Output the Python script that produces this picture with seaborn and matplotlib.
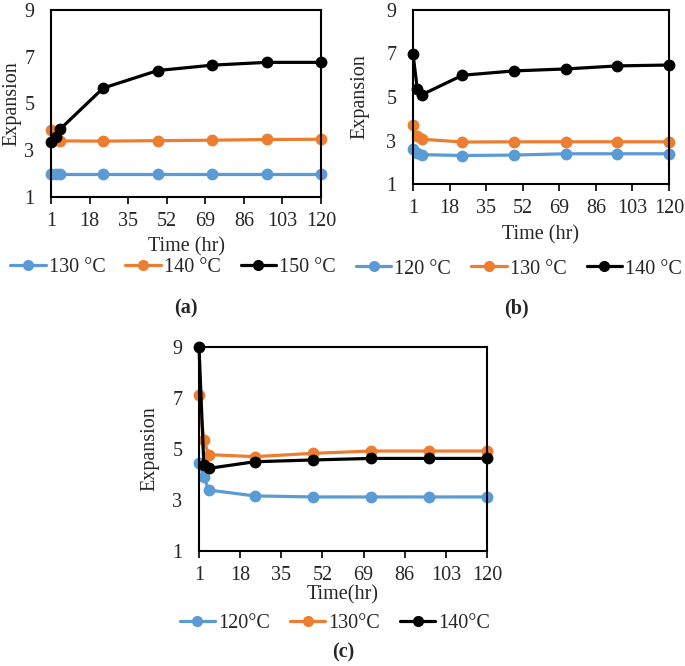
import matplotlib
matplotlib.use("Agg")
import matplotlib.pyplot as plt
import seaborn as sns
import pandas as pd
from matplotlib.lines import Line2D

# ---------------- data ----------------
time_hr = [1, 3, 5, 24, 48, 72, 96, 120]

a_labels = ["130 °C", "140 °C", "150 °C"]
a_130 = [2.00, 2.00, 2.00, 2.00, 2.00, 2.00, 2.00, 2.00]
a_140 = [3.85, 3.43, 3.40, 3.39, 3.41, 3.43, 3.46, 3.47]
a_150 = [3.36, 3.57, 3.90, 5.66, 6.41, 6.64, 6.76, 6.76]

b_labels = ["120 °C", "130 °C", "140 °C"]
b_120 = [2.62, 2.42, 2.35, 2.31, 2.33, 2.39, 2.39, 2.39]
b_130 = [3.72, 3.22, 3.06, 2.93, 2.94, 2.94, 2.94, 2.94]
b_140 = [6.98, 5.36, 5.10, 6.00, 6.20, 6.29, 6.43, 6.47]

c_labels = ["120°C", "130°C", "140°C"]
c_120 = [4.46, 3.90, 3.39, 3.16, 3.12, 3.12, 3.12, 3.12]
c_130 = [7.10, 5.35, 4.78, 4.70, 4.83, 4.92, 4.92, 4.92]
c_140 = [9.00, 4.37, 4.24, 4.50, 4.57, 4.63, 4.63, 4.63]

x_ticks = [1, 18, 35, 52, 69, 86, 103, 120]
y_ticks = [1, 3, 5, 7, 9]

colors = ["#5B9BD5", "#ED7D31", "#000000"]

# ---------------- style ----------------
sns.set_theme(style="white")
plt.rcParams["font.family"] = ["Liberation Serif", "DejaVu Serif"]

W, H = 685, 666
FS = 14.5
fig = plt.figure(figsize=(W / 100, H / 100), dpi=100)


def px_axes(left, top, right, bottom):
    ax = fig.add_axes([left / W, 1 - bottom / H, (right - left) / W, (bottom - top) / H])
    return ax, left, right


def panel(axinfo, series, labels, ylabel_x, xlabel, xlabel_xy, legend_xy, letter, letter_xy):
    ax, left, right = axinfo
    rows = []
    for lab, vals in zip(labels, series):
        for t, v in zip(time_hr, vals):
            rows.append({"Time": t, "Expansion": v, "Series": lab})
    df = pd.DataFrame(rows)
    sns.lineplot(data=df, x="Time", y="Expansion", hue="Series", hue_order=labels,
                 palette=dict(zip(labels, colors)), marker="o", markersize=8.5,
                 markeredgewidth=0, linewidth=2.3, legend=False, ax=ax, clip_on=False)
    ax.set_xlim(1, 120)
    ax.set_ylim(1, 9)
    ax.set_xticks(x_ticks)
    ax.set_yticks(y_ticks)
    ax.tick_params(axis="x", direction="out", length=5, width=1.2, color="black",
                   labelsize=FS, pad=6, bottom=True)
    ax.tick_params(axis="y", length=0, labelsize=FS, pad=12)
    for s in ax.spines.values():
        s.set_color("black")
        s.set_linewidth(1.5)
    ax.set_xlabel("")
    ax.set_ylabel("Expansion", fontsize=FS, va="center")
    ax.yaxis.set_label_coords((ylabel_x - left) / (right - left), 0.5)
    fig.text(xlabel_xy[0] / W, 1 - xlabel_xy[1] / H, xlabel, ha="center", va="center", fontsize=FS)
    handles = [Line2D([], [], color=c, marker="o", markersize=8, markeredgewidth=0, linewidth=2.3)
               for c in colors]
    fig.legend(handles, labels, loc="center", ncol=3, frameon=False,
               bbox_to_anchor=(legend_xy[0] / W, 1 - legend_xy[1] / H),
               fontsize=FS, handlelength=1.75, handletextpad=0.15,
               columnspacing=1.0, borderaxespad=0, borderpad=0)
    fig.text(letter_xy[0] / W, 1 - letter_xy[1] / H, letter, ha="center", va="center",
             fontsize=FS, fontweight="bold")


panel(px_axes(51, 10, 321, 197), [a_130, a_140, a_150], a_labels, 12,
      "Time (hr)", (186, 247), (173, 267), "(a)", (186, 308))

panel(px_axes(413, 10, 669, 184), [b_120, b_130, b_140], b_labels, 360,
      "Time (hr)", (541, 235), (519, 269), "(b)", (516, 308))

panel(px_axes(199, 347, 487, 551), [c_120, c_130, c_140], c_labels, 150,
      "Time(hr)", (343, 595), (335, 623), "(c)", (343, 652))

fig.savefig("out.png", dpi=100, facecolor="white")
